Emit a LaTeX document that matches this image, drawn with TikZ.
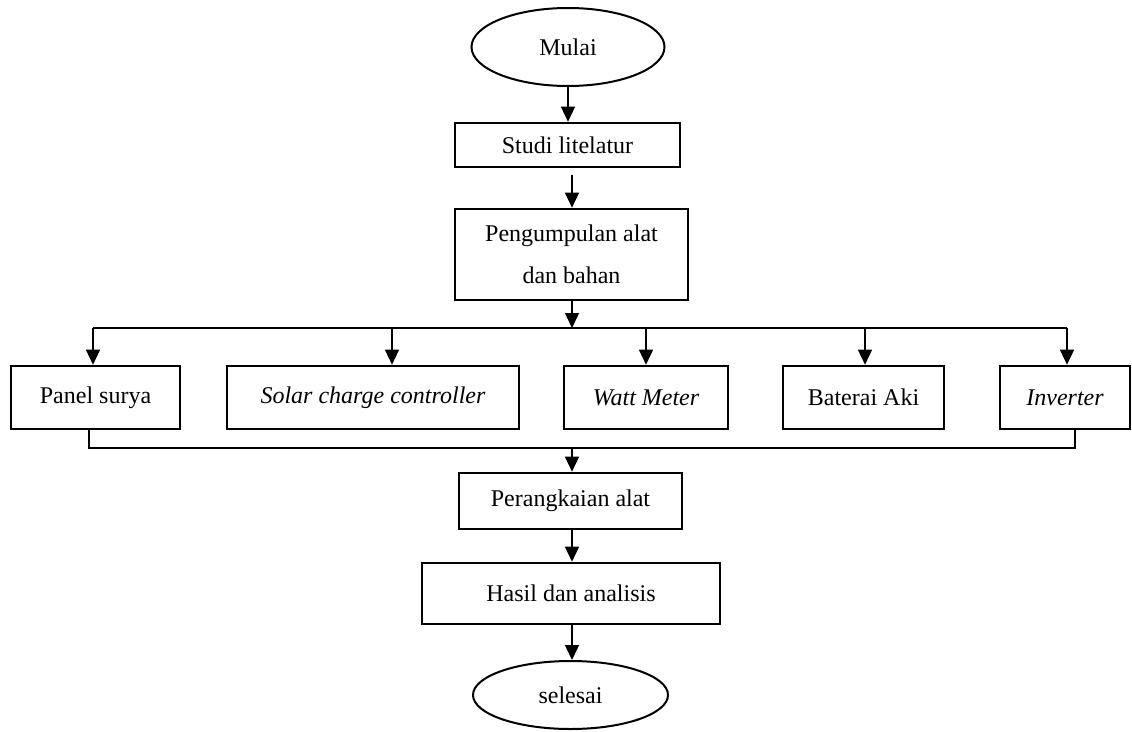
\documentclass[tikz,border=0pt]{standalone}
\usepackage{fontspec}
\setmainfont{Liberation Serif}
\usetikzlibrary{arrows.meta,shapes.geometric}
\begin{document}
\begin{tikzpicture}[x=1pt,y=-1pt,
  every node/.style={font=\fontsize{24}{42}\selectfont, inner sep=0pt, align=center},
  box/.style={draw, line width=2.6pt, rectangle},
  term/.style={draw, line width=2pt, ellipse},
  conn/.style={line width=1.4pt},
  arr/.style={conn, -{Triangle[length=15pt,width=14pt]}}]
\useasboundingbox (0,0) rectangle (1132,731);
% nodes
\node[term, minimum width=193pt, minimum height=78pt] (mulai) at (568,47) {Mulai};
\node[box, minimum width=225pt, minimum height=44pt] (studi) at (567.5,145) {Studi litelatur};
\node[box, minimum width=233pt, minimum height=91pt] (peng) at (571.5,254.5) {Pengumpulan alat\\dan bahan};
\node[box, minimum width=169pt, minimum height=63pt] (panel) at (95.5,397.5) {Panel surya};
\node[box, minimum width=292pt, minimum height=63pt] (solar) at (373,397.5) {\itshape Solar charge controller};
\node[box, minimum width=164pt, minimum height=63pt] (watt) at (646,397.5) {\itshape Watt Meter};
\node[box, minimum width=161pt, minimum height=63pt] (aki) at (863.5,397.5) {Baterai Aki};
\node[box, minimum width=130pt, minimum height=63pt] (inv) at (1065,397.5) {\itshape Inverter};
\node[box, minimum width=223pt, minimum height=56pt] (rangkai) at (570.5,501) {Perangkaian alat};
\node[box, minimum width=298pt, minimum height=61pt] (hasil) at (571,593.5) {Hasil dan analisis};
\node[term, minimum width=195pt, minimum height=68pt] (selesai) at (570.5,695) {selesai};
% bus coordinates
\coordinate (top) at (572,328);
\coordinate (b1) at (93,328);
\coordinate (b2) at (392,328);
\coordinate (b3) at (646,328);
\coordinate (b4) at (865,328);
\coordinate (b5) at (1067,328);
\coordinate (l1) at (89,448);
\coordinate (l2) at (1075,448);
\coordinate (bot) at (572,448);
% connectors
\draw[arr] (mulai.south) -- (mulai.south |- studi.north);
\draw[arr] ([yshift=-7pt]studi.south -| top) -- (top |- peng.north);
\draw[arr] (top |- peng.south) -- (top);
\draw[conn] (b1) -- (b5);
\draw[arr] (b1) -- (b1 |- panel.north);
\draw[arr] (b2) -- (b2 |- solar.north);
\draw[arr] (b3) -- (b3 |- watt.north);
\draw[arr] (b4) -- (b4 |- aki.north);
\draw[arr] (b5) -- (b5 |- inv.north);
\draw[conn] (l1 |- panel.south) -- (l1) -- (l2) -- (l2 |- inv.south);
\draw[arr] (bot) -- (bot |- rangkai.north);
\draw[arr] (rangkai.south -| bot) -- (bot |- hasil.north);
\draw[arr] (hasil.south -| bot) -- (bot |- selesai.north);
\end{tikzpicture}
\end{document}
